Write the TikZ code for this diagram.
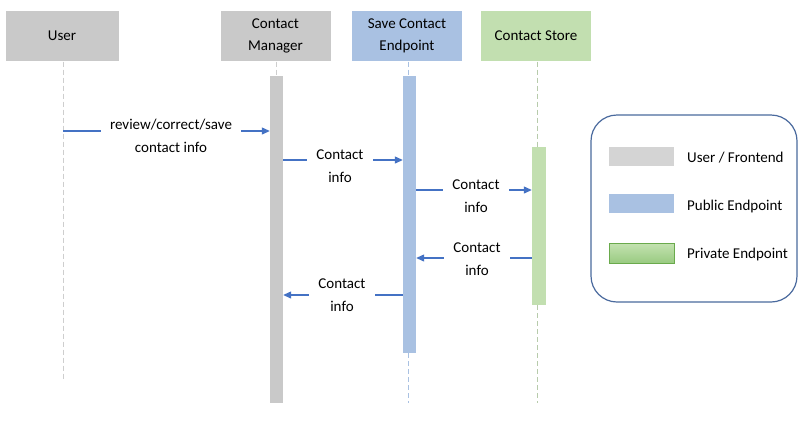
\documentclass[tikz,border=0pt]{standalone}
\usepackage{fontspec}
\setmainfont{Carlito}
\usetikzlibrary{arrows.meta}
\definecolor{grayc}{HTML}{C9C9C9}
\definecolor{bluec}{HTML}{A9C1E2}
\definecolor{greenc}{HTML}{C2DFB0}
\definecolor{arrowc}{HTML}{4472C4}
\definecolor{legc}{HTML}{4A6A9E}
\definecolor{swtop}{HTML}{C3E2B0}
\definecolor{swbot}{HTML}{98CA80}
\definecolor{swedge}{HTML}{6AAA4C}
\tikzset{
  hdr/.style={minimum width=111pt, minimum height=51pt, inner sep=0pt, align=center, font=\fontsize{15pt}{22pt}\selectfont, draw=white, line width=1pt},
  actbar/.style={inner sep=0pt, minimum width=13pt, draw=none},
  life/.style={dash pattern=on 5pt off 3pt, line width=0.8pt},
  msg/.style={draw=arrowc, line width=1.2pt, -{Triangle[length=8pt,width=7pt]}},
  lbl/.style={fill=white, inner xsep=9pt, inner ysep=2pt, align=center, font=\fontsize{15pt}{23pt}\selectfont},
  legtxt/.style={anchor=west, inner sep=0pt, font=\fontsize{15pt}{18pt}\selectfont},
  swatch/.style={minimum width=65pt, minimum height=19pt, inner sep=0pt}
}
\begin{document}
\begin{tikzpicture}[x=1pt,y=-1pt]
\useasboundingbox[fill=white] (0,0) rectangle (808,426);
% headers
\node[hdr, fill=grayc, minimum width=114pt] (user) at (62,35.5) {User};
\node[hdr, fill=grayc] (cm) at (275.5,35.5) {Contact\\Manager};
\node[hdr, fill=bluec] (sce) at (407,35.5) {Save Contact\\Endpoint};
\node[hdr, fill=greenc] (cs) at (536,35.5) {Contact Store};
% activation bars
\node[actbar, fill=grayc, minimum height=327pt] (cmbar) at (276.5,239.5) {};
\node[actbar, fill=bluec, minimum height=277pt] (scebar) at (409.5,214.5) {};
\node[actbar, fill=greenc, minimum width=14pt, minimum height=158pt] (csbar) at (539,226) {};
% end points of lifelines
\coordinate (userend) at (63,381);
\coordinate (sceend) at (408,403);
\coordinate (csend) at (537,403);
% lifelines
\draw[life, draw=grayc!90] (user.south -| userend) -- (userend);
\draw[life, draw=grayc!90] (cm.south -| cmbar) -- (cmbar.north);
\draw[life, draw=bluec] (sce.south -| sceend) -- (sceend |- scebar.north);
\draw[life, draw=bluec] (sceend |- scebar.south) -- (sceend);
\draw[life, draw=greenc!85!black!80] (cs.south -| csend) -- (csend |- csbar.north);
\draw[life, draw=greenc!85!black!80] (csend |- csbar.south) -- (csend);
% messages
\draw[msg] (userend |- 0,131) -- (cmbar.west |- 0,131);
\node[lbl] (l1) at (171,136) {review/correct/save\\contact info};
\draw[msg] (cmbar.east |- 0,160) -- (scebar.west |- 0,160);
\node[lbl] (l2) at (340,166) {Contact\\info};
\draw[msg] (scebar.east |- 0,190) -- (csbar.west |- 0,190);
\node[lbl] (l3) at (476,196) {Contact\\info};
\draw[msg] (csbar.west |- 0,258) -- (scebar.east |- 0,258);
\node[lbl] (l4) at (477,259.5) {Contact\\info};
\draw[msg] (scebar.west |- 0,295) -- (cmbar.east |- 0,295);
\node[lbl] (l5) at (342,295) {Contact\\info};
% legend
\node[draw=legc, line width=1.2pt, rounded corners=26pt, minimum width=206pt, minimum height=187pt, inner sep=0pt] (legend) at (694,208.5) {};
\node[swatch, fill=grayc!80!white] (sw1) at (641.5,156.5) {};
\node[swatch, fill=bluec] (sw2) at (641.5,203.5) {};
\node[swatch, draw=swedge, line width=1pt, top color=swtop, bottom color=swbot, minimum height=20pt] (sw3) at (642,253.5) {};
\node[legtxt] (t1) at (687,158) {User / Frontend};
\node[legtxt] (t2) at (687,206) {Public Endpoint};
\node[legtxt] (t3) at (687,254.5) {Private Endpoint};
\end{tikzpicture}
\end{document}
